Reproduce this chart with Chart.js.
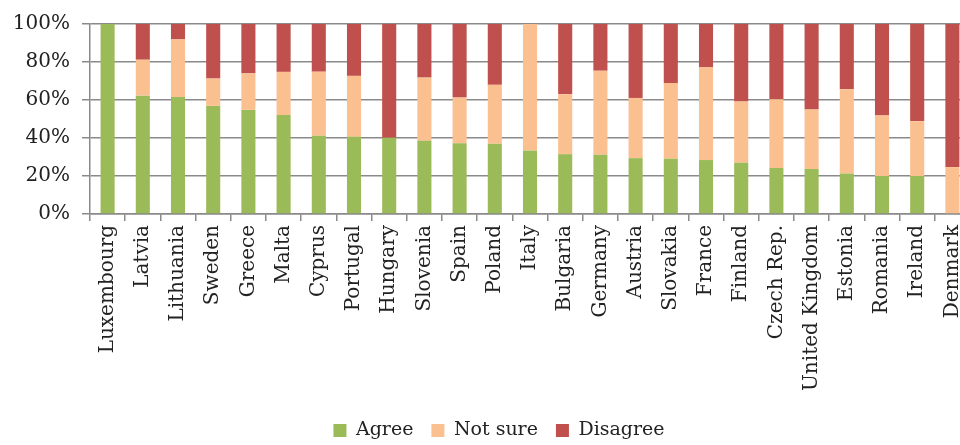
<!DOCTYPE html>
<html>
<head>
<meta charset="utf-8">
<script src="https://cdn.jsdelivr.net/npm/chart.js@4.4.0/dist/chart.umd.min.js"></script>
<style>
html,body{margin:0;padding:0;background:#fff;overflow:hidden;width:960px;height:445px;}
#wrap{width:960px;height:445px;position:relative;overflow:hidden;}
canvas{display:block;}
</style>
</head>
<body>
<div id="wrap"><canvas id="c" width="970" height="445" style="width:970px;height:445px"></canvas></div>
<script>
const categories = ["Luxembourg","Latvia","Lithuania","Sweden","Greece","Malta","Cyprus","Portugal","Hungary","Slovenia","Spain","Poland","Italy","Bulgaria","Germany","Austria","Slovakia","France","Finland","Czech Rep.","United Kingdom","Estonia","Romania","Ireland","Denmark"];
const agree    = [100, 62.3, 61.6, 56.9, 54.8, 52.1, 41.2, 40.6, 40.1, 38.5, 37.2, 37.0, 33.4, 31.5, 31.2, 29.4, 29.1, 28.4, 27.0, 24.2, 23.7, 21.3, 20.0, 20.0, 0];
const notSure  = [0, 18.9, 30.3, 14.4, 19.2, 22.7, 33.7, 32.1, 0, 33.3, 24.1, 31.0, 66.6, 31.5, 44.2, 31.7, 39.8, 48.8, 32.2, 36.2, 31.3, 44.4, 31.9, 28.8, 24.7];
const disagree = [0, 18.8, 8.1, 28.7, 26.0, 25.2, 25.1, 27.3, 59.9, 28.2, 38.7, 32.0, 0, 37.0, 24.6, 38.9, 31.1, 22.8, 40.8, 39.6, 45.0, 34.3, 48.1, 51.2, 75.3];
const yTicks = [0, 20, 40, 60, 80, 100];

const FONT = "'DejaVu Serif', serif";
const GRID = '#8a8a8a';

const legendShift = {
  id: 'legendShift',
  afterLayout(chart) {
    const lg = chart.legend;
    if (!lg) return;
    lg.left += 14; lg.right += 14;
    lg.top += 5; lg.bottom += 5;
  }
};

new Chart(document.getElementById('c'), {
  type: 'bar',
  data: {
    labels: categories,
    datasets: [
      {label: 'Agree', data: agree, backgroundColor: '#9BBB59'},
      {label: 'Not sure', data: notSure, backgroundColor: '#FAC090'},
      {label: 'Disagree', data: disagree, backgroundColor: '#C0504D'}
    ]
  },
  plugins: [legendShift],
  options: {
    responsive: false,
    animation: false,
    devicePixelRatio: 1,
    layout: {padding: {left: 0, top: 7, right: 0, bottom: 0}},
    datasets: {bar: {categoryPercentage: 1.0, barPercentage: 0.4}},
    plugins: {
      legend: {
        position: 'bottom',
        labels: {
          font: {family: FONT, size: 19},
          color: '#222',
          boxWidth: 13,
          boxHeight: 13,
          padding: 18
        }
      },
      tooltip: {enabled: false}
    },
    scales: {
      x: {
        stacked: true,
        afterFit: (s) => { s.height = 184; s.paddingRight = 0; s.paddingLeft = 0; },
        grid: {offset: true, drawOnChartArea: false, tickLength: 7, color: GRID, lineWidth: 1.5},
        border: {color: GRID, width: 1.5},
        ticks: {
          minRotation: 90, maxRotation: 90, autoSkip: false,
          font: {family: FONT, size: 20}, color: '#222', padding: 4
        }
      },
      y: {
        stacked: true,
        min: 0, max: 100,
        afterFit: (s) => { s.width = 90; },
        afterBuildTicks: (s) => { s.ticks = yTicks.map(v => ({value: v})); },
        grid: {color: GRID, lineWidth: 1.5, tickLength: 8},
        border: {color: GRID, width: 1.5},
        ticks: {
          font: {family: FONT, size: 20}, color: '#222', padding: 12,
          callback: (v) => v + '%'
        }
      }
    }
  }
});
</script>
</body>
</html>
